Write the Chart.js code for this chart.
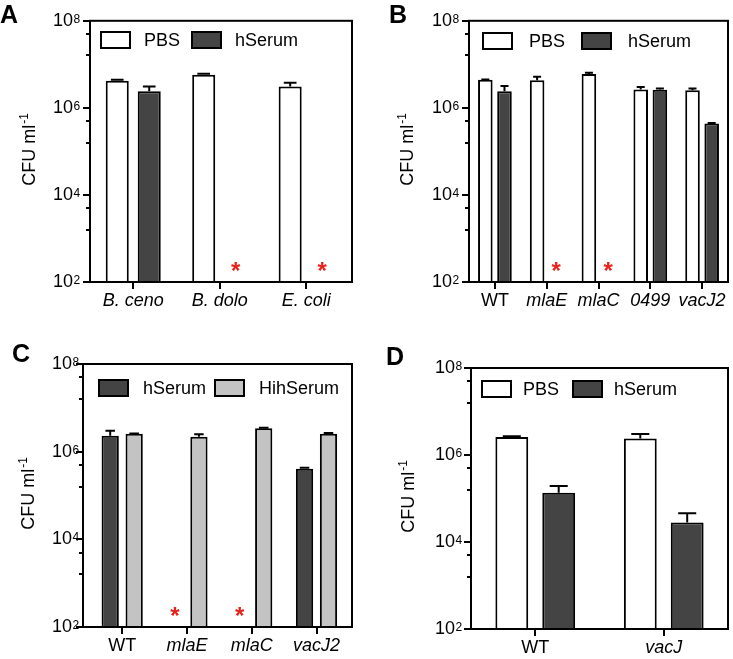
<!DOCTYPE html>
<html><head><meta charset="utf-8">
<script src="https://cdn.jsdelivr.net/npm/chart.js@4"></script>
<style>
html,body{margin:0;padding:0;background:#fff;}
body{width:733px;height:659px;position:relative;overflow:hidden;font-family:"Liberation Sans",Arial,sans-serif;color:#000;}
.panel{position:absolute;}
.panel canvas{position:absolute;left:0;top:0;}
.letter{position:absolute;font-weight:bold;font-size:25px;line-height:1;}
.legend{position:absolute;display:flex;align-items:center;font-size:18px;line-height:1;white-space:nowrap;}
.legend .box{width:27px;height:14px;border:2px solid #000;}
</style></head><body>
<script>
// ---------- DATA ----------
const yMajorTicks = [1e2, 1e4, 1e6, 1e8];
const yMinorTicks = [5e7, 1.6e7, 5e5, 1.6e5, 5e3, 1.6e3];
const yTitleMain = 'CFU ml';
const yTitleSup = '-1';

// Panel A
const catsA = ['B. ceno', 'B. dolo', 'E. coli'];
const italicA = [true, true, true];
const pbsA = [4.2e6, 5.8e6, 3.1e6];
const pbsErrA = [4.4e6, 6.1e6, 3.8e6];
const serumA = [2.4e6, null, null];
const serumErrA = [3.1e6, null, null];
const serumKilledA = [false, true, true];

// Panel B
const catsB = ['WT', 'mlaE', 'mlaC', '0499', 'vacJ2'];
const italicB = [false, true, true, true, true];
const pbsB = [4.4e6, 4.3e6, 6.0e6, 2.65e6, 2.55e6];
const pbsErrB = [4.5e6, 5.2e6, 6.4e6, 3.0e6, 2.8e6];
const serumB = [2.4e6, null, null, 2.6e6, 4.35e5];
const serumErrB = [3.2e6, null, null, 2.8e6, 4.5e5];
const serumKilledB = [false, true, true, false, false];

// Panel C
const catsC = ['WT', 'mlaE', 'mlaC', 'vacJ2'];
const italicC = [false, true, true, true];
const serumC = [2.3e6, null, null, 4.1e5];
const serumErrC = [3.0e6, null, null, 4.3e5];
const serumKilledC = [false, true, true, false];
const hihC = [2.55e6, 2.2e6, 3.4e6, 2.55e6];
const hihErrC = [2.6e6, 2.5e6, 3.5e6, 2.65e6];

// Panel D
const catsD = ['WT', 'vacJ'];
const italicD = [false, true];
const pbsD = [2.6e6, 2.4e6];
const pbsErrD = [2.7e6, 3.05e6];
const serumD = [1.35e5, 2.8e4];
const serumErrD = [1.95e5, 4.6e4];

// ---------- STYLE ----------
const FONT = '"Liberation Sans", Arial, sans-serif';
const WHITE = '#ffffff', DARK = '#444444', LIGHT = '#c3c3c3', STAR = '#e8231b';
const MAJOR_TL = 7;

Chart.defaults.font.family = FONT;
Chart.defaults.color = '#000';

const decoPlugin = {
  id: 'deco',
  afterDraw(chart) {
    const ctx = chart.ctx, a = chart.chartArea, ys = chart.scales.y;
    const p = chart.options.plugins.deco;
    ctx.save();
    // exponents of the y tick labels ("10" comes from the axis itself)
    ctx.fillStyle = '#000';
    ctx.font = '12px ' + FONT;
    ctx.textAlign = 'left';
    ctx.textBaseline = 'alphabetic';
    const xExp = ys.right - MAJOR_TL - ys.options.ticks.padding + 0.5;
    ys.ticks.forEach(t => {
      const y = ys.getPixelForValue(t.value);
      ctx.fillText(String(Math.round(Math.log10(t.value))), xExp, y + 2);
    });
    // rotated axis title with superscript
    ctx.translate(p.titleX, (a.top + a.bottom) / 2 + p.titleDy);
    ctx.rotate(-Math.PI / 2);
    ctx.font = '18px ' + FONT;
    const w1 = ctx.measureText(yTitleMain).width;
    ctx.font = '12px ' + FONT;
    const w2 = ctx.measureText(yTitleSup).width;
    const tot = w1 + 1 + w2;
    ctx.font = '18px ' + FONT;
    ctx.fillText(yTitleMain, -tot / 2, 6.5);
    ctx.font = '12px ' + FONT;
    ctx.fillText(yTitleSup, -tot / 2 + w1 + 1, -0.5);
    ctx.restore();
  },
  afterDatasetsDraw(chart) {
    const ctx = chart.ctx, a = chart.chartArea, ys = chart.scales.y;
    ctx.save();
    ctx.strokeStyle = '#000';
    ctx.lineWidth = 2;
    chart.data.datasets.forEach((ds, di) => {
      const meta = chart.getDatasetMeta(di);
      meta.data.forEach((bar, i) => {
        const v = ds.data[i], e = ds.err ? ds.err[i] : null;
        if (v == null || e == null) return;
        const yt = ys.getPixelForValue(e);
        const cap = bar.width * 0.55;
        ctx.beginPath();
        ctx.moveTo(bar.x, bar.y);
        ctx.lineTo(bar.x, yt);
        ctx.moveTo(bar.x - cap / 2, yt);
        ctx.lineTo(bar.x + cap / 2, yt);
        ctx.stroke();
      });
      if (ds.killed) {
        ctx.fillStyle = STAR;
        ctx.font = 'bold 24px ' + FONT;
        ctx.textAlign = 'center';
        ctx.textBaseline = 'alphabetic';
        ds.killed.forEach((k, i) => {
          if (!k) return;
          ctx.fillText('*', meta.data[i].x, a.bottom - 3);
        });
      }
    });
    ctx.strokeRect(a.left, a.top, a.right - a.left, a.bottom - a.top);
    ctx.restore();
  }
};

function makePanel(p) {
  const wrap = document.createElement('div');
  wrap.className = 'panel';
  wrap.style.left = p.x + 'px'; wrap.style.top = p.y + 'px';
  wrap.style.width = p.w + 'px'; wrap.style.height = p.h + 'px';
  const cv = document.createElement('canvas');
  cv.width = p.w; cv.height = p.h;
  cv.style.width = p.w + 'px'; cv.style.height = p.h + 'px';
  wrap.appendChild(cv);
  document.body.appendChild(wrap);

  const n = p.cats.length;
  const datasets = p.series.map(s => ({
    label: s.label, data: s.data, err: s.err, killed: s.killed,
    backgroundColor: s.color, borderColor: '#000', borderWidth: 2,
    borderSkipped: 'start',
    barPercentage: p.barPct, categoryPercentage: p.catPct
  }));

  new Chart(cv, {
    type: 'bar',
    data: { labels: p.cats.map((c, i) => i), datasets },
    options: {
      responsive: false, animation: false, devicePixelRatio: 1,
      layout: { padding: { left: 0, top: p.area.top, right: p.w - p.area.right, bottom: 0 } },
      plugins: {
        legend: { display: false }, tooltip: { enabled: false }, title: { display: false },
        deco: { titleX: p.titleX, titleDy: -2 }
      },
      scales: {
        x: {
          type: 'linear', min: -0.5 - p.gapL, max: n - 0.5 + p.gapR, offset: false,
          border: { display: false },
          grid: { display: true, drawOnChartArea: false, drawTicks: true, tickLength: 7, color: '#000', lineWidth: 2, offset: false },
          ticks: {
            autoSkip: false, maxRotation: 0, minRotation: 0, padding: 1, color: '#000',
            font: (ctx) => ({ family: FONT, size: 18, style: p.italic[ctx.index] ? 'italic' : 'normal' }),
            callback: (v, i) => p.cats[i]
          },
          afterBuildTicks: (sc) => { sc.ticks = p.cats.map((c, i) => ({ value: i })); },
          afterFit: (sc) => { sc.height = p.h - p.area.bottom; }
        },
        y: {
          type: 'logarithmic', position: 'left', weight: 1, min: 1e2, max: 1e8,
          border: { display: false },
          grid: { display: true, drawOnChartArea: false, drawTicks: true, tickLength: MAJOR_TL, color: '#000', lineWidth: 2 },
          ticks: {
            autoSkip: false, padding: p.tickPad, color: '#000', font: { family: FONT, size: 18 },
            callback: () => '10'
          },
          title: { display: false },
          afterBuildTicks: (sc) => { sc.ticks = yMajorTicks.map(v => ({ value: v })); },
          afterFit: (sc) => { sc.width = p.area.left; }
        },
        y2: {
          type: 'logarithmic', position: 'left', weight: 0, min: 1e2, max: 1e8,
          border: { display: false },
          grid: { display: true, drawOnChartArea: false, drawTicks: true, tickLength: 4, color: '#000', lineWidth: 2 },
          ticks: { display: false, autoSkip: false },
          afterBuildTicks: (sc) => { sc.ticks = yMinorTicks.map(v => ({ value: v })); },
          afterFit: (sc) => { sc.width = 0; }
        }
      }
    },
    plugins: [decoPlugin]
  });

  const L = document.createElement('div');
  L.className = 'letter'; L.textContent = p.letter;
  L.style.left = p.letterPos[0] + 'px'; L.style.top = p.letterPos[1] + 'px';
  document.body.appendChild(L);

  const lg = document.createElement('div');
  lg.className = 'legend';
  lg.style.left = (p.x + p.area.left + p.legend.dx) + 'px';
  lg.style.top = (p.y + p.area.top + p.legend.dy) + 'px';
  p.series.forEach((s, k) => {
    const b = document.createElement('span');
    b.className = 'box'; b.style.background = s.color;
    b.style.marginRight = p.legend.boxGap + 'px';
    const t = document.createElement('span');
    t.textContent = s.label;
    t.style.marginRight = (k < p.series.length - 1 ? p.legend.itemGap : 0) + 'px';
    lg.appendChild(b); lg.appendChild(t);
  });
  document.body.appendChild(lg);
}

makePanel({
  letter: 'A', letterPos: [0, 2],
  x: 0, y: 0, w: 366, h: 330,
  area: { left: 90, top: 20, right: 352, bottom: 282 },
  gapL: 0, gapR: 0.03, barPct: 0.72, catPct: 0.74, tickPad: 10, titleX: 28,
  cats: catsA, italic: italicA,
  legend: { dx: 10, dy: 11, boxGap: 13, itemGap: 11 },
  series: [
    { label: 'PBS', data: pbsA, err: pbsErrA, color: WHITE },
    { label: 'hSerum', data: serumA, err: serumErrA, killed: serumKilledA, color: DARK }
  ]
});

makePanel({
  letter: 'B', letterPos: [389, 2],
  x: 366, y: 0, w: 367, h: 330,
  area: { left: 103, top: 20, right: 362, bottom: 282 },
  gapL: 0, gapR: 0, barPct: 0.76, catPct: 0.74, tickPad: 10, titleX: 40,
  cats: catsB, italic: italicB,
  legend: { dx: 13, dy: 12, boxGap: 16, itemGap: 16 },
  series: [
    { label: 'PBS', data: pbsB, err: pbsErrB, color: WHITE },
    { label: 'hSerum', data: serumB, err: serumErrB, killed: serumKilledB, color: DARK }
  ]
});

makePanel({
  letter: 'C', letterPos: [12, 341],
  x: 0, y: 330, w: 366, h: 329,
  area: { left: 83, top: 34, right: 352, bottom: 297 },
  gapL: 0.105, gapR: 0.048, barPct: 0.72, catPct: 0.74, tickPad: 4, titleX: 27,
  cats: catsC, italic: italicC,
  legend: { dx: 15, dy: 15, boxGap: 14, itemGap: 8 },
  series: [
    { label: 'hSerum', data: serumC, err: serumErrC, killed: serumKilledC, color: DARK },
    { label: 'HihSerum', data: hihC, err: hihErrC, color: LIGHT }
  ]
});

makePanel({
  letter: 'D', letterPos: [386, 344],
  x: 366, y: 330, w: 367, h: 329,
  area: { left: 105, top: 38, right: 362, bottom: 299 },
  gapL: 0, gapR: 0, barPct: 0.70, catPct: 0.73, tickPad: 9, titleX: 41,
  cats: catsD, italic: italicD,
  legend: { dx: 10, dy: 12, boxGap: 11, itemGap: 13 },
  series: [
    { label: 'PBS', data: pbsD, err: pbsErrD, color: WHITE },
    { label: 'hSerum', data: serumD, err: serumErrD, color: DARK }
  ]
});
</script>
</body></html>
